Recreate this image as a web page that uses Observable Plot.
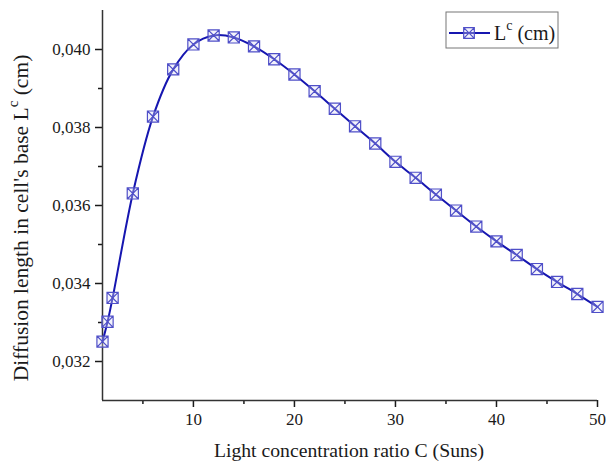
<!DOCTYPE html>
<html>
<head>
<meta charset="utf-8">
<script src="https://cdn.jsdelivr.net/npm/d3@7"></script>
<script src="https://cdn.jsdelivr.net/npm/@observablehq/plot@0.6"></script>
<style>
  html, body { margin: 0; padding: 0; background: #fff; }
  #chart { width: 606px; height: 465px; }
  #chart svg text, #chart svg tspan { font-family: "Liberation Serif", "Times New Roman", serif !important; }
</style>
</head>
<body>
<div id="chart"></div>
<script>
// Data
const C = [1, 1.5, 2, 4, 6, 8, 10, 12, 14, 16, 18, 20, 22, 24, 26, 28, 30, 32, 34, 36, 38, 40, 42, 44, 46, 48, 50];
const Lc = [0.03251, 0.03302, 0.03363, 0.03631, 0.03828, 0.03949, 0.04013, 0.04036, 0.04031, 0.04008, 0.03975,
            0.03936, 0.03893, 0.03848, 0.03803, 0.03759, 0.03712, 0.03671, 0.03628, 0.03587, 0.03546, 0.03508,
            0.03473, 0.03437, 0.03404, 0.03373, 0.0334];
const xTicks = [10, 20, 30, 40, 50];
const xMinorTicks = [5, 15, 25, 35, 45];
const yTicks = [0.032, 0.034, 0.036, 0.038, 0.040];
const yMinorTicks = [0.033, 0.035, 0.037, 0.039];
const xLabel = "Light concentration ratio C (Suns)";
const yLabelMain = "Diffusion length in cell's base L";
const yLabelSup = "c";
const yLabelTail = " (cm)";
const legendMain = "L";
const legendSup = "c";
const legendTail = " (cm)";

const data = C.map((c, i) => ({c, l: Lc[i]}));
const fmt = v => d3.format(".3f")(v).replace(".", ",");

const lineColor = "#1616b0";
const markColor = "#4f4fc8";
const textColor = "#1a1a1a";

// square with an X inside
const squareX = {
  draw(ctx, size) {
    const h = Math.sqrt(size) / 2;
    ctx.moveTo(-h, -h); ctx.lineTo(h, -h); ctx.lineTo(h, h); ctx.lineTo(-h, h); ctx.closePath();
    ctx.moveTo(-h, -h); ctx.lineTo(h, h);
    ctx.moveTo(h, -h); ctx.lineTo(-h, h);
  }
};

const chart = Plot.plot({
  width: 606, height: 465,
  marginLeft: 102, marginRight: 9, marginTop: 10, marginBottom: 65,
  x: {domain: [1, 50]},
  y: {domain: [0.031, 0.041]},
  style: {fontFamily: "Liberation Serif, serif", fontSize: "17px", color: textColor, background: "#fff"},
  marks: [
    Plot.axisX({ticks: xTicks, tickSize: 7, tickPadding: 5, label: null, fontSize: 17, strokeWidth: 1.5}),
    Plot.axisX({ticks: xMinorTicks, tickSize: 4, text: null, label: null, strokeWidth: 1.5}),
    Plot.axisY({ticks: yTicks, tickSize: 7, tickPadding: 5, tickFormat: fmt, label: null, fontSize: 17, strokeWidth: 1.5}),
    Plot.axisY({ticks: yMinorTicks, tickSize: 4, text: null, label: null, strokeWidth: 1.5}),
    Plot.ruleX([1], {stroke: "#333", strokeWidth: 1.5}),
    Plot.ruleY([0.031], {stroke: "#333", strokeWidth: 1.5}),
    Plot.line(data, {x: "c", y: "l", curve: "catmull-rom", stroke: lineColor, strokeWidth: 2}),
    Plot.dot(data, {x: "c", y: "l", symbol: squareX, r: 6.3, stroke: markColor, strokeWidth: 1.2, fill: "#dcdcf4", fillOpacity: 0.35})
  ]
});

const svg = d3.select(chart);
const font = "Liberation Serif, serif";

// x label
svg.append("text")
  .attr("x", 349).attr("y", 457)
  .attr("text-anchor", "middle")
  .attr("font-family", font).attr("font-size", 19.7).attr("fill", textColor)
  .text(xLabel);

// y label
const yl = svg.append("text")
  .attr("transform", "translate(28,218) rotate(-90)")
  .attr("text-anchor", "middle")
  .attr("font-family", font).attr("font-size", 21.5).attr("fill", textColor);
yl.append("tspan").text(yLabelMain);
yl.append("tspan").attr("dy", -10).attr("font-size", 15).text(yLabelSup);
yl.append("tspan").attr("dy", 10).text(yLabelTail);

// legend
const lg = svg.append("g");
lg.append("rect").attr("x", 446).attr("y", 12).attr("width", 112).attr("height", 36)
  .attr("fill", "#fff").attr("stroke", "#777").attr("stroke-width", 1);
lg.append("line").attr("x1", 449).attr("x2", 490).attr("y1", 33).attr("y2", 33)
  .attr("stroke", lineColor).attr("stroke-width", 2);
lg.append("path").attr("transform", "translate(469,33)")
  .attr("d", d3.symbol(squareX, 36 * Math.PI)())
  .attr("stroke", markColor).attr("stroke-width", 1.2).attr("fill", "#dcdcf4").attr("fill-opacity", 0.35);
const lt = lg.append("text").attr("x", 494).attr("y", 40)
  .attr("text-anchor", "start")
  .attr("font-family", font).attr("font-size", 20).attr("fill", textColor);
lt.append("tspan").text(legendMain);
lt.append("tspan").attr("dy", -10).attr("font-size", 14).text(legendSup);
lt.append("tspan").attr("dy", 10).text(legendTail);

document.getElementById("chart").appendChild(chart);
</script>
</body>
</html>
